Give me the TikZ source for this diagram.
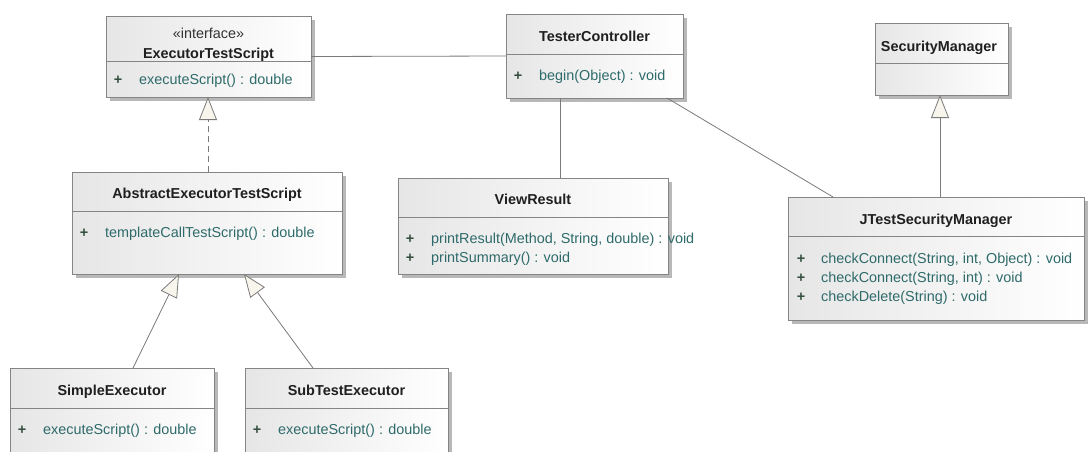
\documentclass[tikz,border=0pt]{standalone}
\usepackage{fontspec}
\setmainfont{Liberation Sans}
\usetikzlibrary{arrows.meta,shadows}

\definecolor{boxline}{HTML}{858585}
\definecolor{edgecol}{HTML}{7A7A7A}
\definecolor{hdr}{HTML}{E6E6E6}
\definecolor{shade}{HTML}{B8B8B8}
\definecolor{methcol}{HTML}{2E6A6A}
\definecolor{pluscol}{HTML}{35503F}
\definecolor{tipfill}{HTML}{F7F5EC}

\tikzset{
  umlbox/.style={draw=boxline, line width=0.9pt, left color=hdr, right color=white,
    inner sep=0pt, outer sep=0pt, anchor=north west,
    drop shadow={shadow xshift=4pt, shadow yshift=-4pt, fill=shade, opacity=1}},
  divline/.style={draw=boxline, line width=0.9pt},
  basefont/.style={font=\fontsize{14.4}{17}\selectfont, inner sep=0pt},
  title/.style={basefont, font=\fontsize{14.4}{17}\selectfont\bfseries, text=black!88, anchor=base},
  stereo/.style={basefont, text=black!80, anchor=base},
  plus/.style={basefont, font=\fontsize{14.4}{17}\selectfont\bfseries, text=pluscol, anchor=base},
  meth/.style={basefont, text=methcol, anchor=base west},
  assoc/.style={draw=edgecol, line width=0.8pt},
  inherit/.style={draw=edgecol, line width=0.8pt,
    -{Triangle[length=23pt, width=18pt, fill=tipfill, line width=0.8pt]}},
  realize/.style={inherit, dash pattern=on 6pt off 4pt},
}

\begin{document}
\begin{tikzpicture}[x=1pt, y=-1pt]
\useasboundingbox (0,0) rectangle (1088,451);
\clip (0,0) rectangle (1088,451);
\fill[white] (0,0) rectangle (1088,451);

% ---------- ExecutorTestScript ----------
\node[umlbox, minimum width=205pt, minimum height=81pt] (ets) at (106,16) {};
\draw[divline] (ets.west |- 0,61) -- (ets.east |- 0,61);
\node[stereo] (etsS) at (208.5,38) {«interface»};
\node[title] (etsT) at (208.5,58) {ExecutorTestScript};
\node[plus] (etsP1) at (118,84) {+};
\node[meth] (etsM1) at (139,84) {executeScript() : double};

% ---------- TesterController ----------
\node[umlbox, minimum width=177pt, minimum height=84pt] (tc) at (506,14) {};
\draw[divline] (tc.west |- 0,54) -- (tc.east |- 0,54);
\node[title] (tcT) at (594.5,41) {TesterController};
\node[plus] (tcP1) at (518,80) {+};
\node[meth] (tcM1) at (539,80) {begin(Object) : void};

% ---------- SecurityManager ----------
\node[umlbox, minimum width=133pt, minimum height=72pt] (sm) at (875,23) {};
\draw[divline] (sm.west |- 0,63) -- (sm.east |- 0,63);
\node[title] (smT) at (939,51) {SecurityManager};

% ---------- AbstractExecutorTestScript ----------
\node[umlbox, minimum width=270pt, minimum height=102pt] (aets) at (72,172) {};
\draw[divline] (aets.west |- 0,211) -- (aets.east |- 0,211);
\node[title] (aetsT) at (207,198) {AbstractExecutorTestScript};
\node[plus] (aetsP1) at (84,237) {+};
\node[meth] (aetsM1) at (105,237) {templateCallTestScript() : double};

% ---------- ViewResult ----------
\node[umlbox, minimum width=270pt, minimum height=96pt] (vr) at (398,178) {};
\draw[divline] (vr.west |- 0,217) -- (vr.east |- 0,217);
\node[title] (vrT) at (533,204) {ViewResult};
\node[plus] (vrP1) at (410,243) {+};
\node[meth] (vrM1) at (431,243) {printResult(Method, String, double) : void};
\node[plus] (vrP2) at (410,262) {+};
\node[meth] (vrM2) at (431,262) {printSummary() : void};

% ---------- JTestSecurityManager ----------
\node[umlbox, minimum width=296pt, minimum height=123pt] (jtsm) at (788,197) {};
\draw[divline] (jtsm.west |- 0,236) -- (jtsm.east |- 0,236);
\node[title] (jtsmT) at (936,224) {JTestSecurityManager};
\node[plus] (jtsmP1) at (801,263) {+};
\node[meth] (jtsmM1) at (821,263) {checkConnect(String, int, Object) : void};
\node[plus] (jtsmP2) at (801,282) {+};
\node[meth] (jtsmM2) at (821,282) {checkConnect(String, int) : void};
\node[plus] (jtsmP3) at (801,301) {+};
\node[meth] (jtsmM3) at (821,301) {checkDelete(String) : void};

% ---------- SimpleExecutor ----------
\node[umlbox, minimum width=204pt, minimum height=95pt] (se) at (10,368) {};
\draw[divline] (se.west |- 0,408) -- (se.east |- 0,408);
\node[title] (seT) at (112,395) {SimpleExecutor};
\node[plus] (seP1) at (22,434) {+};
\node[meth] (seM1) at (43,434) {executeScript() : double};

% ---------- SubTestExecutor ----------
\node[umlbox, minimum width=203pt, minimum height=95pt] (ste) at (245,368) {};
\draw[divline] (ste.west |- 0,408) -- (ste.east |- 0,408);
\node[title] (steT) at (346.5,395) {SubTestExecutor};
\node[plus] (steP1) at (257,434) {+};
\node[meth] (steM1) at (278,434) {executeScript() : double};

% ---------- connectors ----------
\draw[assoc] (ets.east) -- (tc.west);
\draw[assoc] (tc.south -| 560,0) -- (vr.north -| 560,0);
\draw[assoc] (tc.south -| 667,0) -- (jtsm.north -| 833,0);
\draw[realize] (aets.north -| 208,0) -- (ets.south -| 208,0);
\draw[inherit] (jtsm.north -| 940,0) -- (sm.south -| 940,0);
\draw[inherit] (se.north -| 133,0) -- (aets.south -| 179,0);
\draw[inherit] (ste.north -| 313,0) -- (aets.south -| 244,0);
\end{tikzpicture}
\end{document}
